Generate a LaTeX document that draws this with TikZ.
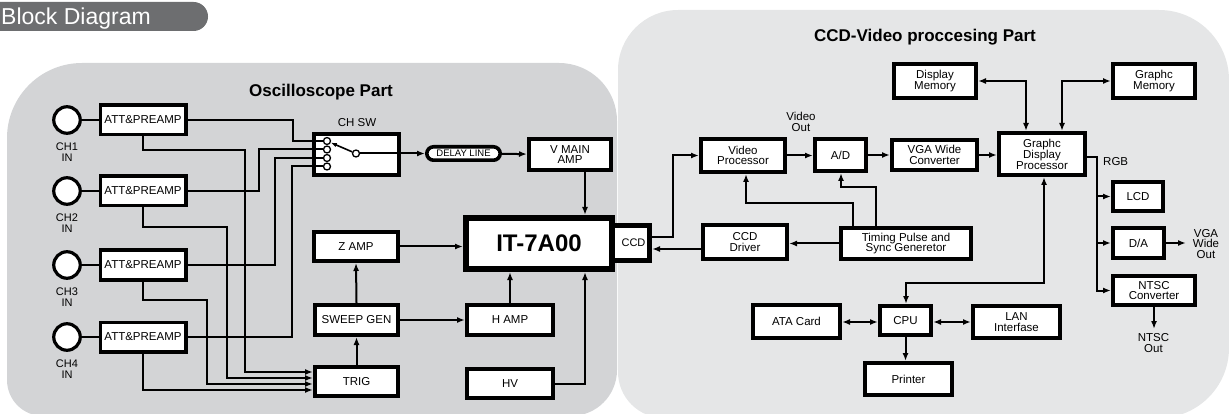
\documentclass[tikz,border=0pt]{standalone}
\usepackage{fontspec}
\setmainfont{Liberation Sans}
\usetikzlibrary{arrows.meta,calc}
\newcommand\fsz[2]{\fontsize{#1}{#2}\selectfont}
\definecolor{oscg}{RGB}{211,212,214}
\definecolor{ccdg}{RGB}{229,230,231}
\definecolor{tabg}{RGB}{109,110,112}
\pgfdeclarelayer{bg}\pgfdeclarelayer{edges}\pgfsetlayers{bg,edges,main}
\begin{document}
\begin{tikzpicture}[x=1pt,y=-1pt,
  blk/.style={draw, line width=3.6pt, fill=white, inner sep=0pt, align=center, font=\fsz{11.5}{10.5}},
  jack/.style={draw, circle, line width=3.2pt, fill=white, inner sep=0pt, minimum size=26.5pt},
  swc/.style={draw, circle, line width=1.3pt, fill=white, inner sep=0pt, minimum size=7pt},
  txt/.style={inner sep=0pt, align=center, font=\fsz{11.5}{10.8}},
  ttl/.style={inner sep=0pt, font=\bfseries\fsz{17}{17}},
  ln/.style={line width=2pt},
  arr/.style={line width=2pt, -{Latex[length=8pt,width=6pt]}},
  darr/.style={line width=2pt, {Latex[length=8pt,width=6pt]}-{Latex[length=8pt,width=6pt]}}]
\useasboundingbox (0,0) rectangle (1229,414);

\begin{pgfonlayer}{bg}
\begin{scope}[y=1pt]
\fill[oscg] (7,-380) -- (7,-138) arc[start angle=180,end angle=90,radius=75]
  -- (559,-63) arc[start angle=90,end angle=0,radius=58]
  -- (617,-370) arc[start angle=0,end angle=-90,radius=46]
  -- (43,-416) arc[start angle=270,end angle=180,radius=36] -- cycle;
\fill[ccdg] (618,-372) -- (618,-70) arc[start angle=180,end angle=90,radius=60]
  -- (1159,-10) arc[start angle=90,end angle=0,radius=70]
  -- (1229,-348) arc[start angle=0,end angle=-90,radius=70]
  -- (664,-418) arc[start angle=270,end angle=180,radius=46] -- cycle;
\fill[tabg, rounded corners=14.5pt] (-30,-2) rectangle (208,-31);
\end{scope}
\end{pgfonlayer}
\node[anchor=base west, text=white, font=\fsz{23}{23}, inner sep=0pt] (tabtitle) at (1,25) {Block Diagram};

% titles
\node[ttl] (osct) at (321,92) {Oscilloscope Part};
\node[ttl] (ccdt) at (925,37) {CCD-Video proccesing Part};

% ---------- Oscilloscope part ----------
\foreach \i/\y in {1/120,2/191,3/265,4/337}{
  \node[jack] (c\i) at (67,\y) {};
  \node[txt, font=\fsz{11}{11}] (cl\i) at (67,\y+32) {CH\i\\IN};
  \node[blk, minimum width=85.4pt, minimum height=29.4pt] (att\i) at (143,\y) {ATT\&PREAMP};
}
\node[blk, minimum width=85.4pt, minimum height=41.4pt] (chsw) at (356.5,154.5) {};
\node[txt] (chswl) at (357,123) {CH SW};
\node[swc] (s1) at (327,141) {};
\node[swc] (s2) at (327,149.5) {};
\node[swc] (s3) at (327,158) {};
\node[swc] (s4) at (327,166.5) {};
\node[swc] (swout) at (356,153.5) {};
\node[draw, line width=3.6pt, fill=white, rounded corners=6.7pt, inner sep=0pt,
      minimum width=73.4pt, minimum height=13.4pt, font=\fsz{9.5}{9.5}] (delay) at (463.5,153.5) {DELAY LINE};
\node[blk, minimum width=82.4pt, minimum height=31.4pt] (vmain) at (570,154.5) {V MAIN\\AMP};
\node[blk, minimum width=84.4pt, minimum height=29.4pt] (zamp) at (356,246.5) {Z AMP};
\node[blk, minimum width=83.4pt, minimum height=30.4pt] (sweep) at (356.5,320) {SWEEP GEN};
\node[blk, minimum width=83.4pt, minimum height=29.4pt] (trig) at (356.5,381.5) {TRIG};
\node[blk, minimum width=86.4pt, minimum height=30.4pt] (hamp) at (510,320) {H AMP};
\node[blk, minimum width=86.4pt, minimum height=29.4pt] (hv) at (510,383.5) {HV};
\node[draw, line width=5pt, fill=white, inner sep=0pt, minimum width=37.5pt, minimum height=35pt] (ccd) at (630.75,243) {};
\node[txt, font=\fsz{11}{11}] (ccdtxt) at (633.5,243) {CCD};
\node[draw, line width=6pt, fill=white, inner sep=0pt, minimum width=146pt, minimum height=51pt,
      font=\bfseries\fsz{24}{24}] (it) at (539,243.5) {IT-7A00};

% switch internals
\draw[ln] (chsw.west |- s1) -- (s1);
\draw[ln] (chsw.west |- s2) -- (s2);
\draw[ln] (chsw.west |- s3) -- (s3);
\draw[ln] (chsw.west |- s4) -- (s4);
\draw[line width=1.6pt, -{Latex[length=6pt,width=4.5pt]}] (swout) -- (s1);
\draw[arr] (swout) -- (delay);

\begin{pgfonlayer}{edges}
\foreach \i in {1,2,3,4}{ \draw[ln] (c\i) -- (att\i); }
\draw[ln] (att1.east) -| (293,141) -- (s1);
\draw[ln] (att2.east) -| (259,149.5) -- (s2);
\draw[ln] (att3.east) -| (275,158) -- (s3);
\draw[ln] (att4.east) -| (292,166.5) -- (s4);
\draw[arr] (att1.south) |- (245,150) |- (trig.west |- 0,372);
\draw[arr] (att2.south) |- (227,227) |- (trig.west |- 0,378);
\draw[arr] (att3.south) |- (207,300) |- (trig.west |- 0,384);
\draw[arr] (att4.south) |- (trig.west |- 0,390);
\draw[arr] (delay) -- (vmain);
\draw[arr] (vmain.south -| 585,0) -- (it.north -| 585,0);
\draw[arr] (zamp.east) -- (zamp.east -| it.west);
\draw[arr] (trig.north) -- (sweep.south);
\draw[arr] (sweep.north) -- (zamp.south);
\draw[arr] (sweep.east) -- (hamp.west);
\draw[arr] (hamp.north) -- (hamp.north |- it.south);
\draw[arr] (hv.east) -| (it.south -| 585,0);
\end{pgfonlayer}

% ---------- CCD part ----------
\node[blk, minimum width=84.4pt, minimum height=33.4pt] (vproc) at (743,155.5) {Video\\Processor};
\node[blk, minimum width=51.4pt, minimum height=32.4pt] (ad) at (840.5,155) {A/D};
\node[blk, minimum width=85.4pt, minimum height=30.4pt] (vga) at (934.5,155) {VGA Wide\\Converter};
\node[blk, minimum width=86.4pt, minimum height=42.4pt] (gdp) at (1042,154) {Graphc\\Display\\Processor};
\node[blk, minimum width=82.4pt, minimum height=34.4pt] (dmem) at (935,81) {Display\\Memory};
\node[blk, minimum width=82.4pt, minimum height=34.4pt] (gmem) at (1154,81) {Graphc\\Memory};
\node[blk, minimum width=50.4pt, minimum height=29.4pt] (lcd) at (1138,196.5) {LCD};
\node[blk, minimum width=51.4pt, minimum height=30.4pt] (da) at (1138.5,243) {D/A};
\node[blk, minimum width=82.4pt, minimum height=29.4pt] (ntsc) at (1154,290.5) {NTSC\\Converter};
\node[blk, minimum width=130.4pt, minimum height=31.4pt] (timing) at (906,243.5) {Timing Pulse and\\Sync Generetor};
\node[blk, minimum width=84.4pt, minimum height=34.4pt] (ccddrv) at (745,242) {CCD\\Driver};
\node[blk, minimum width=51.4pt, minimum height=29.4pt] (cpu) at (905.5,320.5) {CPU};
\node[blk, minimum width=87.4pt, minimum height=33.4pt] (ata) at (796.5,321.5) {ATA Card};
\node[blk, minimum width=87.4pt, minimum height=32.4pt] (lan) at (1016.5,322) {LAN\\Interfase};
\node[blk, minimum width=87.4pt, minimum height=32.4pt] (printer) at (908.5,379) {Printer};

\node[txt] (vout) at (801,122) {Video\\Out};
\node[txt, anchor=west] (rgb) at (1103,162) {RGB};
\node[txt] (vgaoutl) at (1206,244) {VGA\\Wide\\Out};
\node[txt] (ntscoutl) at (1153.5,343) {NTSC\\Out};
\coordinate (vgaend) at (1186,243);
\coordinate (ntscend) at (1154,329);

\begin{pgfonlayer}{edges}
\draw[arr] (ccd.east |- 0,237) -- (673,237) |- (vproc.west);
\draw[arr] (ccddrv.west |- 0,249) -- (ccd.east |- 0,249);
\draw[arr] (timing.west) -- (ccddrv.east |- timing.west);
\draw[arr] (timing.north -| 853,0) |- (746,203) -- (vproc.south -| 746,0);
\draw[arr] (timing.north -| 876,0) |- (841,187) -- (ad.south -| 841,0);
\draw[arr] (vproc.east) -- (vproc.east -| ad.west);
\draw[arr] (ad.east) -- (ad.east -| vga.west);
\draw[arr] (vga.east) -- (vga.east -| gdp.west);
\draw[darr] (gdp.north -| 1026,0) |- (dmem.east);
\draw[darr] (gdp.north -| 1062,0) |- (gmem.west);
\draw[arr] (gdp.east |- 0,157) -| (1097,290.5) -- (ntsc.west);
\draw[arr] (lcd.west -| 1097,0) -- (lcd.west);
\draw[arr] (da.west -| 1097,0) -- (da.west);
\draw[arr] (da.east) -- (vgaend);
\draw[arr] (ntsc.south) -- (ntscend);
\draw[darr] (gdp.south -| 1044,0) |- (906,283) -- (cpu.north -| 906,0);
\draw[darr] (ata.east |- 0,322) -- (cpu.west |- 0,322);
\draw[darr] (cpu.east |- 0,322) -- (lan.west |- 0,322);
\draw[arr] (cpu.south) -- (cpu.south |- printer.north);
\end{pgfonlayer}
\end{tikzpicture}
\end{document}
